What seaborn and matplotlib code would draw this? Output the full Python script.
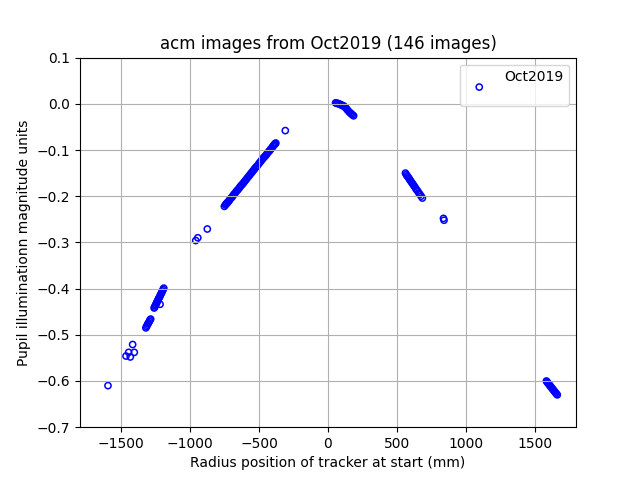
import numpy as np
import pandas as pd
import matplotlib
matplotlib.use("Agg")
import matplotlib.pyplot as plt
import seaborn as sns

# grupos de pontos (raio em mm, magnitude)
x_a = [-1597]
y_a = [-0.610]

x_b = [-1466, -1447, -1435, -1406, -1418]
y_b = [-0.546, -0.538, -0.548, -0.538, -0.521]

x_c = [-1322, -1317, -1312, -1307, -1302, -1297, -1292, -1287]
y_c = [-0.485, -0.482, -0.479, -0.476, -0.474, -0.471, -0.468, -0.466]

x_d = [-1262, -1258, -1254, -1250, -1246, -1242, -1238, -1234, -1230, -1226,
       -1222, -1218, -1214, -1210, -1206, -1202, -1197, -1192, -1219]
y_d = [-0.442, -0.440, -0.437, -0.435, -0.432, -0.430, -0.427, -0.425, -0.422, -0.420,
       -0.418, -0.415, -0.413, -0.410, -0.408, -0.405, -0.402, -0.399, -0.434]

x_e = [-960, -945, -876]
y_e = [-0.296, -0.290, -0.271]

x_f = [-752, -745, -740, -736, -731, -727, -722, -716, -710, -704,
       -697, -690, -683, -676, -669, -661, -654, -646, -639, -631,
       -624, -616, -608, -600, -592, -584, -576, -568, -560, -552,
       -544, -536, -528, -520, -512, -503, -495, -487, -479, -471,
       -463, -455, -447, -440, -432, -425, -418, -412, -406, -400,
       -395, -390, -386, -382, -379, -310]
y_f = [-0.222, -0.219, -0.217, -0.216, -0.214, -0.213, -0.211, -0.209, -0.206, -0.204,
       -0.202, -0.199, -0.196, -0.194, -0.191, -0.188, -0.186, -0.183, -0.180, -0.177,
       -0.175, -0.172, -0.169, -0.166, -0.163, -0.160, -0.157, -0.154, -0.151, -0.148,
       -0.145, -0.142, -0.139, -0.136, -0.134, -0.130, -0.127, -0.124, -0.121, -0.118,
       -0.115, -0.113, -0.110, -0.107, -0.104, -0.102, -0.099, -0.097, -0.095, -0.092,
       -0.090, -0.089, -0.087, -0.086, -0.085, -0.058]

x_g = [55, 62, 70, 78, 86, 93, 100, 108, 115, 122, 130, 138, 146, 155, 163, 170, 178, 186]
y_g = [0.002, 0.001, 0.001, 0.000, -0.001, -0.002, -0.003, -0.004, -0.005, -0.007,
       -0.009, -0.012, -0.015, -0.018, -0.020, -0.022, -0.024, -0.026]

x_h = [562, 568, 574, 580, 587, 593, 600, 607, 614, 621, 628, 636, 643, 651, 659, 667, 676, 685]
y_h = [-0.150, -0.153, -0.156, -0.158, -0.161, -0.164, -0.167, -0.170, -0.173, -0.176,
       -0.179, -0.183, -0.186, -0.189, -0.193, -0.196, -0.200, -0.204]

x_i = [838, 842]
y_i = [-0.248, -0.252]

x_j = [1585, 1590, 1595, 1600, 1606, 1611, 1616, 1621, 1627, 1632, 1637, 1643, 1648, 1653, 1659, 1664]
y_j = [-0.600, -0.602, -0.604, -0.606, -0.608, -0.610, -0.612, -0.614, -0.616, -0.618,
       -0.620, -0.622, -0.624, -0.626, -0.628, -0.630]

mes = "Oct2019"

df = pd.DataFrame({
    "raio": x_a + x_b + x_c + x_d + x_e + x_f + x_g + x_h + x_i + x_j,
    "mag": y_a + y_b + y_c + y_d + y_e + y_f + y_g + y_h + y_i + y_j,
})

fig, ax = plt.subplots(figsize=(6.4, 4.8), dpi=100)

sns.scatterplot(data=df, x="raio", y="mag", marker="o", s=20,
                facecolors="none", edgecolors="blue", linewidth=1.1,
                label=mes + "\n", ax=ax)

ax.set_xlim(-1800, 1800)
ax.set_ylim(-0.7, 0.1)
ax.set_xticks([-1500, -1000, -500, 0, 500, 1000, 1500])
ax.set_title(f"acm images from {mes} ({len(df)} images)")
ax.set_xlabel("Radius position of tracker at start (mm)")
ax.set_ylabel("Pupil illuminationn magnitude units")
ax.grid(True)
ax.legend(loc="upper right")

plt.savefig("out.png", dpi=100)
